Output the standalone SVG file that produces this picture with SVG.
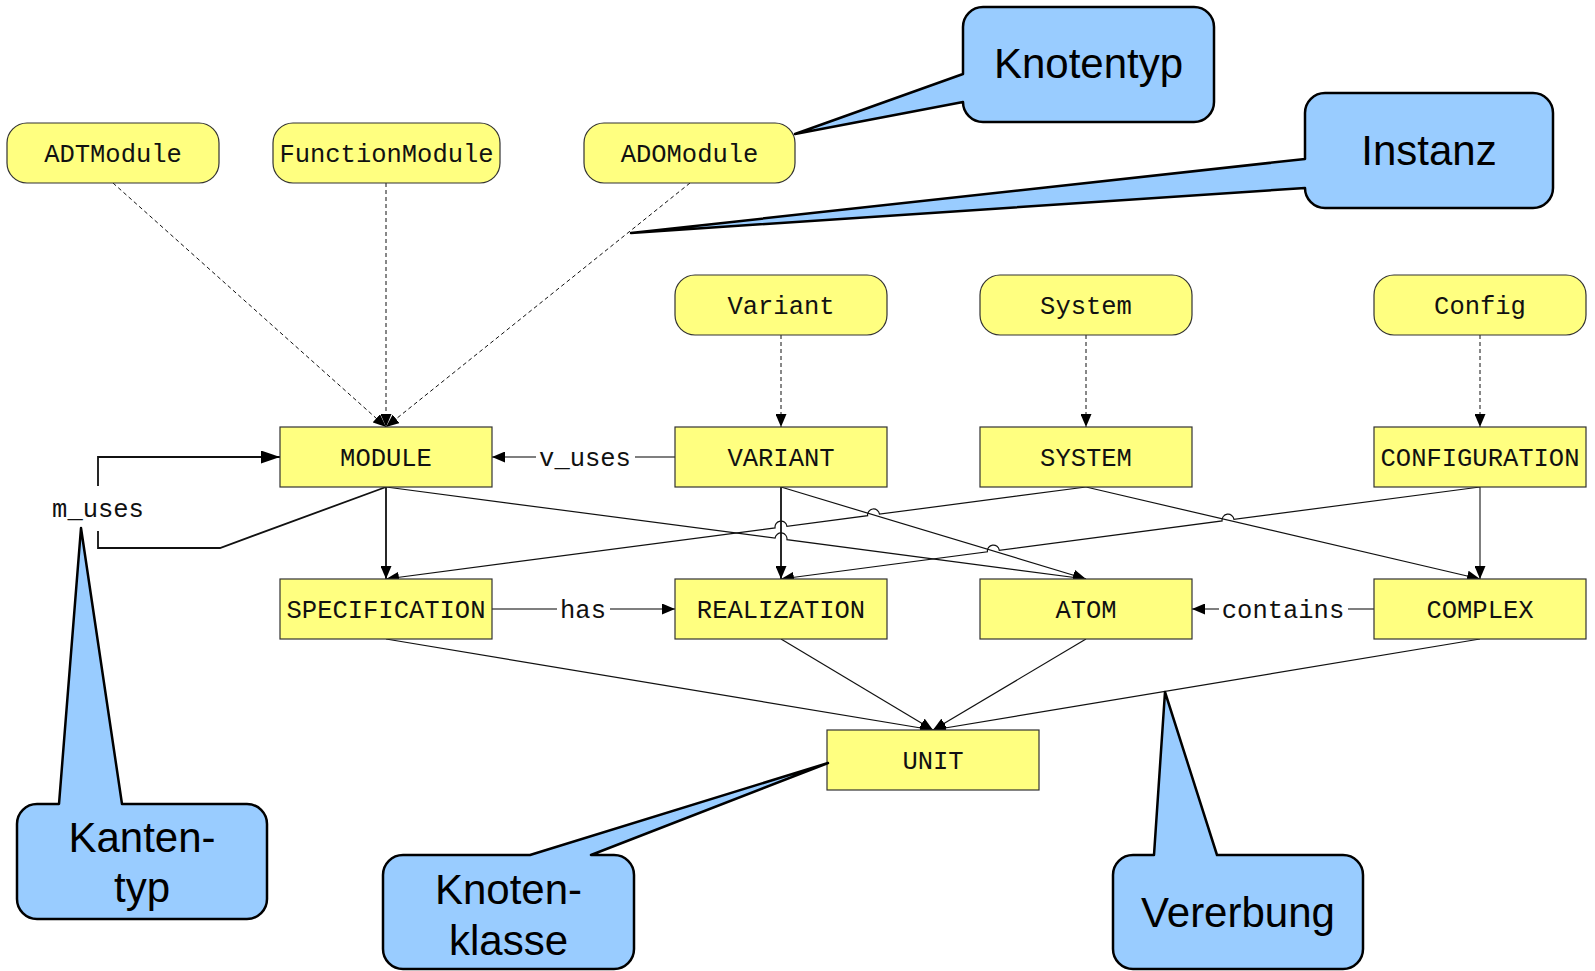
<svg xmlns="http://www.w3.org/2000/svg" width="1595" height="971" viewBox="0 0 1595 971">
  <defs>
    <marker id="arrow" markerUnits="userSpaceOnUse" markerWidth="13" markerHeight="11" viewBox="0 0 13 11" refX="13" refY="5.5" orient="auto">
      <path d="M0,0 L13,5.5 L0,11 Z" fill="#000"/>
    </marker>
    <marker id="arrow-lg" markerUnits="userSpaceOnUse" markerWidth="19" markerHeight="13" viewBox="0 0 19 13" refX="19" refY="6.5" orient="auto">
      <path d="M0,0 L19,6.5 L0,13 Z" fill="#000"/>
    </marker>
  </defs>
  <style>
    .node rect { fill: #ffff80; stroke: #333; stroke-width: 1.2; }
    .node text, .label { font-family: "Liberation Mono", "Courier New", monospace; font-size: 25.5px; fill: #111; text-anchor: middle; }
    .edge { fill: none; stroke: #111; stroke-width: 1.2; }
    .gray { stroke: #555; stroke-width: 1.5; }
    .bold { stroke-width: 1.8; }
    .dashed { stroke-dasharray: 4 3; stroke-width: 1; }
    .callout path { fill: #99ccff; stroke: #000; stroke-width: 2.5; stroke-linejoin: round; }
    .callout text { font-family: "Liberation Sans", Arial, sans-serif; font-size: 42px; fill: #000; text-anchor: middle; }
  </style>

  <rect width="1595" height="971" fill="#fff"/>

  <!-- connectors -->
  <g id="connectors">
    <!-- instance-of (dashed) -->
    <path class="edge dashed" d="M113,183 L386,427" marker-end="url(#arrow)"/>
    <path class="edge dashed" d="M386,183 L386,427" marker-end="url(#arrow)"/>
    <path class="edge dashed" d="M690,183 L386,427" marker-end="url(#arrow)"/>
    <path class="edge dashed" d="M781,335 L781,427" marker-end="url(#arrow)"/>
    <path class="edge dashed" d="M1086,335 L1086,427" marker-end="url(#arrow)"/>
    <path class="edge dashed" d="M1480,335 L1480,427" marker-end="url(#arrow)"/>

    <!-- m_uses self loop -->
    <path class="edge bold" d="M386,487 L220,548 L98,548 L98,531"/>
    <path class="edge bold" d="M98,486 L98,457 L280,457" marker-end="url(#arrow-lg)"/>
    <text class="label" x="98" y="517">m_uses</text>

    <!-- v_uses -->
    <path class="edge gray" d="M675,457 L635,457"/>
    <path class="edge gray" d="M536,457 L492,457" marker-end="url(#arrow)"/>
    <text class="label" x="585" y="466">v_uses</text>

    <!-- has -->
    <path class="edge gray" d="M492,609 L557,609"/>
    <path class="edge gray" d="M610,609 L675,609" marker-end="url(#arrow)"/>
    <text class="label" x="583" y="618">has</text>

    <!-- contains -->
    <path class="edge gray" d="M1374,609 L1348,609"/>
    <path class="edge gray" d="M1219,609 L1192,609" marker-end="url(#arrow)"/>
    <text class="label" x="1283" y="618">contains</text>

    <!-- inheritance, upper level -->
    <path class="edge bold" d="M386,487 L386,579" marker-end="url(#arrow)"/>
    <path class="edge bold" d="M781,487 L781,579" marker-end="url(#arrow)"/>
    <path class="edge gray" d="M1480,487 L1480,579" marker-end="url(#arrow)"/>
    <path class="edge" d="M386,487 L775.05,538.13 A6,6 0 0 1 786.95,539.69 L1086,579" marker-end="url(#arrow)"/>
    <path class="edge" d="M781,487 L1086,579" marker-end="url(#arrow)"/>
    <path class="edge" d="M1086,487 L879.51,514.14 A6,6 0 0 0 867.61,515.70 L786.95,526.31 A6,6 0 0 0 775.05,527.87 L386,579" marker-end="url(#arrow)"/>
    <path class="edge" d="M1086,487 L1480,579" marker-end="url(#arrow)"/>
    <path class="edge" d="M1480,487 L1233.98,519.38 A6,6 0 0 0 1222.08,520.94 L999.30,550.27 A6,6 0 0 0 987.40,551.83 L781,579" marker-end="url(#arrow)"/>

    <!-- inheritance, to UNIT -->
    <path class="edge" d="M386,639 L933,730" marker-end="url(#arrow)"/>
    <path class="edge" d="M781,639 L933,730" marker-end="url(#arrow)"/>
    <path class="edge" d="M1086,639 L933,730" marker-end="url(#arrow)"/>
    <path class="edge" d="M1480,639 L933,730" marker-end="url(#arrow)"/>
  </g>

  <!-- node types -->
  <g id="ADTModule" class="node"><rect x="7" y="123" width="212" height="60" rx="20"/><text x="113" y="162">ADTModule</text></g>
  <g id="FunctionModule" class="node"><rect x="273" y="123" width="227" height="60" rx="20"/><text x="386.5" y="162">FunctionModule</text></g>
  <g id="ADOModule" class="node"><rect x="584" y="123" width="211" height="60" rx="20"/><text x="689.5" y="162">ADOModule</text></g>
  <g id="Variant" class="node"><rect x="675" y="275" width="212" height="60" rx="20"/><text x="781" y="314">Variant</text></g>
  <g id="System" class="node"><rect x="980" y="275" width="212" height="60" rx="20"/><text x="1086" y="314">System</text></g>
  <g id="Config" class="node"><rect x="1374" y="275" width="212" height="60" rx="20"/><text x="1480" y="314">Config</text></g>

  <!-- node classes -->
  <g id="MODULE" class="node"><rect x="280" y="427" width="212" height="60"/><text x="386" y="466">MODULE</text></g>
  <g id="VARIANT" class="node"><rect x="675" y="427" width="212" height="60"/><text x="781" y="466">VARIANT</text></g>
  <g id="SYSTEM" class="node"><rect x="980" y="427" width="212" height="60"/><text x="1086" y="466">SYSTEM</text></g>
  <g id="CONFIGURATION" class="node"><rect x="1374" y="427" width="212" height="60"/><text x="1480" y="466">CONFIGURATION</text></g>
  <g id="SPECIFICATION" class="node"><rect x="280" y="579" width="212" height="60"/><text x="386" y="618">SPECIFICATION</text></g>
  <g id="REALIZATION" class="node"><rect x="675" y="579" width="212" height="60"/><text x="781" y="618">REALIZATION</text></g>
  <g id="ATOM" class="node"><rect x="980" y="579" width="212" height="60"/><text x="1086" y="618">ATOM</text></g>
  <g id="COMPLEX" class="node"><rect x="1374" y="579" width="212" height="60"/><text x="1480" y="618">COMPLEX</text></g>
  <g id="UNIT" class="node"><rect x="827" y="730" width="212" height="60"/><text x="933" y="769">UNIT</text></g>

  <!-- callouts -->
  <g id="callout-knotentyp" class="callout">
    <path d="M983,7 H1194 A20,20 0 0 1 1214,27 V102 A20,20 0 0 1 1194,122 H983 A20,20 0 0 1 963,102 L795,134 L963,74 V27 A20,20 0 0 1 983,7 Z"/>
    <text x="1088.5" y="78">Knotentyp</text>
  </g>
  <g id="callout-instanz" class="callout">
    <path d="M1325,93 H1533 A20,20 0 0 1 1553,113 V188 A20,20 0 0 1 1533,208 H1325 A20,20 0 0 1 1305,188 L631,233 L1305,159 V113 A20,20 0 0 1 1325,93 Z"/>
    <text x="1429" y="165">Instanz</text>
  </g>
  <g id="callout-kantentyp" class="callout">
    <path d="M37,804 H59 L81,528 L122,804 H247 A20,20 0 0 1 267,824 V899 A20,20 0 0 1 247,919 H37 A20,20 0 0 1 17,899 V824 A20,20 0 0 1 37,804 Z"/>
    <text x="142" y="852">Kanten-</text>
    <text x="142" y="902">typ</text>
  </g>
  <g id="callout-knotenklasse" class="callout">
    <path d="M403,855 H530 L828,763 L591,855 H614 A20,20 0 0 1 634,875 V949 A20,20 0 0 1 614,969 H403 A20,20 0 0 1 383,949 V875 A20,20 0 0 1 403,855 Z"/>
    <text x="508.5" y="904">Knoten-</text>
    <text x="508.5" y="955">klasse</text>
  </g>
  <g id="callout-vererbung" class="callout">
    <path d="M1133,855 H1154 L1165,692 L1217,855 H1343 A20,20 0 0 1 1363,875 V949 A20,20 0 0 1 1343,969 H1133 A20,20 0 0 1 1113,949 V875 A20,20 0 0 1 1133,855 Z"/>
    <text x="1238" y="927">Vererbung</text>
  </g>
</svg>
